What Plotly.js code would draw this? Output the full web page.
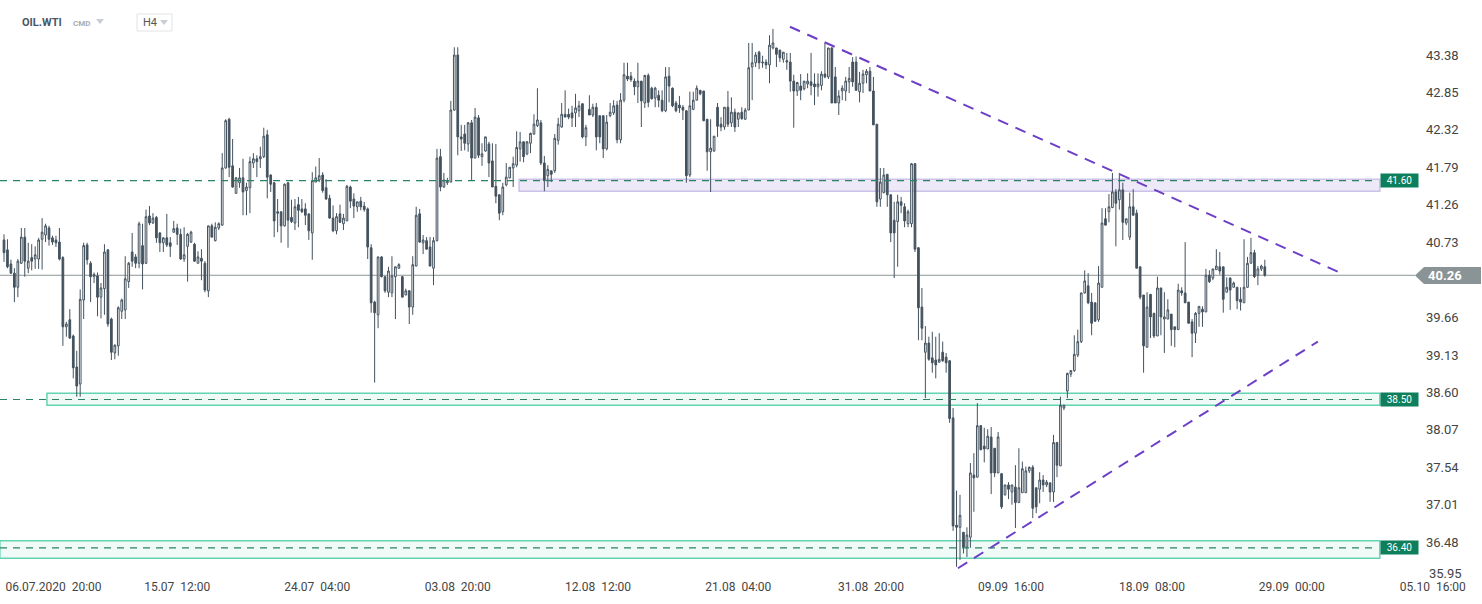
<!DOCTYPE html>
<html><head><meta charset="utf-8">
<script src="https://cdn.plot.ly/plotly-3.0.1.min.js"></script>
<style>html,body{margin:0;padding:0;background:#fff;overflow:hidden}#chart{width:1482px;height:604px}</style>
</head><body><div id="chart"></div>
<script>
// ---- data (OIL.WTI, H4) ----
const openP = [
40.76,40.62,40.42,40.29,40.09,40.43,40.80,40.36,40.51,40.49,
40.49,40.77,40.83,40.93,40.79,40.76,40.73,40.51,39.53,39.63,
39.40,38.96,38.72,39.91,40.69,40.43,40.24,40.25,39.95,40.07,
40.62,39.64,39.16,39.26,39.75,39.77,40.17,40.59,40.52,40.43,
40.68,40.43,41.10,41.00,41.08,40.86,40.72,40.79,40.72,40.87,
40.93,40.84,40.49,40.67,40.73,40.70,40.43,40.50,40.43,40.04,
40.96,40.75,40.93,
40.97,41.78,42.47,41.81,41.42,41.57,41.64,
41.46,41.50,41.85,41.91,41.91,41.94,42.25,41.68,41.57,41.16,
41.16,40.96,41.57,41.08,41.00,41.26,41.20,41.20,41.13,40.86,
41.58,41.61,41.68,41.50,41.35,41.07,40.89,41.13,40.99,41.03,
41.51,41.34,41.23,41.31,41.24,41.20,40.65,39.88,39.70,40.52,
40.24,40.02,40.01,40.24,40.36,40.24,39.98,40.04,39.81,40.39,
41.13,40.72,40.75,40.66,40.36,40.75,41.94,41.51,41.57,41.58,
42.60,43.38,42.22,42.26,42.12,42.42,41.92,42.49,41.94,42.02,
42.12,41.88,41.52,41.40,41.16,41.54,41.64,41.78,41.82,42.05,
42.15,41.98,42.13,42.26,42.38,42.42,41.85,41.67,41.74,41.74,
42.17,42.36,42.54,42.54,42.56,42.56,42.59,42.69,42.22,42.61,
42.53,42.64,42.52,42.52,42.05,42.52,42.56,42.67,42.18,42.74,
43.08,43.08,43.01,42.93,43.01,42.70,43.09,42.91,42.77,42.81,
42.74,42.59,43.08,42.91,42.70,42.67,42.64,42.59,41.68,42.61,
42.74,42.88,42.87,42.47,42.01,42.02,42.64,42.40,42.36,42.64,
42.42,42.57,42.47,42.57,42.47,42.60,43.21,43.27,43.42,43.28,
43.28,43.24,43.48,43.48,43.45,43.32,43.30,43.28,43.01,42.87,
42.94,42.90,42.97,43.00,42.97,42.93,42.95,43.11,43.07,43.48,
43.07,42.70,42.87,42.87,43.00,43.28,43.28,42.86,42.98,43.10,
43.15,42.87,42.40,41.34,41.43,41.69,41.40,41.04,41.02,41.30,
41.23,40.99,40.99,41.84,40.65,39.81,39.17,39.30,39.09,39.06,
39.03,39.17,39.10,39.05,38.24,36.72,36.69,36.62,36.41,36.55,
37.43,37.40,38.13,37.84,37.80,37.97,37.81,37.46,37.45,37.15,
37.29,37.19,37.26,37.04,37.18,37.18,37.49,37.54,37.25,37.23,
37.36,37.29,37.32,37.19,37.89,37.56,38.38,38.62,38.86,38.91,
39.13,39.32,40.01,40.11,39.88,39.87,39.63,40.09,41.06,41.16,
41.22,41.44,41.33,41.47,41.00,40.80,41.23,41.14,40.38,39.98,
39.24,39.99,39.72,39.40,40.08,39.64,39.64,39.71,39.53,39.49,
40.04,40.01,39.88,39.60,39.44,39.72,39.78,39.74,40.26,40.22,
40.34,40.38,40.38,40.02,40.22,40.09,40.09,39.92,39.87,40.09,
40.43,40.58,40.26,40.35,40.38];
const highP = [
40.84,40.77,40.48,40.36,40.49,40.93,40.93,40.72,40.70,40.67,
40.79,41.07,40.99,40.96,40.82,40.82,40.93,40.53,39.60,39.78,
39.42,39.19,40.06,40.72,40.72,40.46,40.30,40.30,40.15,40.70,
40.63,39.66,39.28,39.82,39.93,40.53,40.45,40.86,40.56,41.02,
40.99,41.19,41.24,41.14,41.10,40.87,40.80,41.13,40.80,41.03,
40.99,40.92,40.94,40.86,40.89,40.72,40.60,40.63,40.46,40.96,
40.99,41.01,41.01,
41.99,42.47,42.49,42.19,41.65,41.78,41.91,
41.57,41.94,41.99,41.96,42.08,42.35,42.32,41.69,41.58,41.34,
41.16,41.56,41.58,41.33,41.34,41.37,41.34,41.28,41.13,41.72,
41.80,41.92,41.72,41.62,41.40,41.25,41.14,41.26,41.13,41.54,
41.53,41.42,41.30,41.37,41.30,41.22,40.70,39.90,40.52,40.53,
40.25,40.38,40.53,40.38,40.43,40.25,40.07,40.05,40.53,41.23,
41.20,40.83,40.80,40.80,40.80,42.05,42.05,41.71,41.64,42.73,
43.49,43.49,42.39,42.39,42.43,42.46,42.63,42.53,42.13,42.22,
42.15,42.13,42.12,41.40,41.57,41.85,41.79,41.94,42.30,42.29,
42.16,42.16,42.28,42.54,42.91,42.46,41.95,41.82,41.74,42.26,
42.49,42.70,42.88,42.62,42.66,42.83,42.73,42.69,42.39,42.81,
42.69,42.70,42.52,42.52,42.53,42.70,42.74,42.73,42.84,43.27,
43.27,43.14,43.05,43.27,43.01,43.10,43.12,42.93,42.93,42.88,
42.88,43.21,43.21,42.92,42.73,42.80,42.67,42.60,42.86,42.86,
42.95,42.88,42.87,42.47,42.47,42.23,42.70,42.50,42.64,42.87,
42.78,42.62,42.56,42.64,42.63,43.55,43.55,43.42,43.44,43.37,
43.32,43.66,43.75,43.48,43.45,43.42,43.41,43.41,43.10,43.00,
43.11,43.01,43.12,43.41,43.12,43.12,43.15,43.55,43.48,43.49,
43.21,42.88,42.95,43.07,43.21,43.35,43.36,43.14,43.17,43.18,
43.21,43.07,42.40,41.78,41.78,41.69,41.40,41.30,41.40,41.37,
41.28,41.19,41.85,41.85,40.66,40.08,39.54,39.39,39.46,39.39,
39.44,39.32,39.16,39.05,38.38,37.21,37.15,36.62,36.69,37.60,
37.74,38.45,38.14,38.10,38.08,38.11,37.81,38.04,37.45,37.29,
37.33,37.29,37.57,37.81,37.62,37.55,37.55,37.57,37.25,37.47,
37.43,37.36,37.32,38.00,37.90,38.54,38.42,38.88,38.91,39.41,
39.49,40.01,40.33,40.29,40.01,39.87,40.39,41.21,41.21,41.41,
41.71,41.48,41.71,41.57,41.06,41.43,41.48,41.19,40.38,39.98,
40.02,39.99,39.73,40.24,40.08,40.02,39.92,39.71,39.53,40.14,
40.09,40.73,39.88,39.64,39.74,39.82,39.82,40.35,40.33,40.35,
40.63,40.59,40.38,40.23,40.23,40.17,40.09,40.09,40.77,40.52,
40.79,40.62,40.39,40.41,40.48];
const lowP = [
40.45,40.36,40.28,39.88,39.95,40.42,40.24,40.29,40.33,40.35,
40.35,40.34,40.73,40.68,40.69,40.66,40.47,39.26,39.39,39.36,
38.80,38.54,38.54,39.64,40.41,39.88,40.15,39.68,39.65,39.70,
39.53,39.06,39.07,39.12,39.64,39.64,40.08,40.38,40.36,40.36,
40.06,40.42,40.97,40.99,40.72,40.59,40.59,40.66,40.52,40.86,
40.69,40.48,40.45,40.17,40.72,40.45,40.43,40.19,40.02,39.95,
40.80,40.74,40.90,
40.96,41.77,41.65,41.50,41.42,41.50,41.11,
41.11,41.14,41.78,41.65,41.78,41.92,41.35,41.44,40.80,40.87,
40.72,40.95,40.65,41.00,40.90,40.94,41.14,40.97,40.76,40.48,
41.58,41.58,41.43,41.33,41.06,40.87,40.84,41.00,40.90,41.03,
41.21,41.07,41.16,41.18,41.16,40.49,39.73,38.74,39.51,40.23,
40.01,39.95,39.95,39.64,40.35,39.95,39.98,39.57,39.70,40.39,
40.72,40.56,40.62,40.39,40.12,40.74,41.45,41.50,41.54,41.58,
42.59,41.96,42.02,42.03,42.01,41.61,41.92,41.92,41.81,42.01,
41.65,41.51,41.28,41.04,41.11,41.52,41.63,41.51,41.79,41.87,
41.86,41.96,41.99,42.25,42.36,41.82,41.45,41.51,41.58,41.71,
42.11,42.35,42.50,42.47,42.36,42.36,42.50,42.20,42.09,42.53,
42.50,42.03,42.13,41.92,42.03,42.50,42.53,42.13,42.13,42.71,
43.01,43.00,42.81,42.70,42.36,42.63,42.64,42.75,42.64,42.64,
42.57,42.57,42.71,42.64,42.57,42.56,42.46,41.57,41.65,42.60,
42.74,42.81,42.44,41.74,41.44,42.01,42.22,42.30,42.32,42.36,
42.36,42.29,42.36,42.46,42.46,42.60,42.74,43.21,43.18,43.20,
43.18,42.98,43.46,43.21,43.28,43.27,43.17,42.86,42.35,42.80,
42.74,42.88,42.91,42.81,42.67,42.79,42.88,43.05,43.04,42.70,
42.70,42.53,42.74,42.73,42.84,42.93,42.88,42.71,42.84,42.98,
42.87,42.39,41.23,41.23,41.42,41.23,40.73,40.22,40.38,41.14,
40.94,40.94,40.94,40.59,39.34,39.34,38.52,39.05,38.88,38.80,
39.02,39.03,38.88,38.17,36.64,36.13,36.23,36.32,36.27,36.40,
36.91,37.40,37.78,37.61,37.80,37.16,37.40,37.46,36.95,37.14,
37.09,37.01,36.68,37.04,37.18,37.18,37.46,36.82,36.89,37.03,
37.19,37.26,37.05,37.05,37.40,37.56,38.35,38.52,38.82,38.89,
39.10,39.30,40.00,39.85,39.41,39.60,39.60,40.09,40.97,41.01,
41.21,40.67,41.19,40.76,40.97,40.76,41.11,40.36,39.92,38.88,
39.24,39.37,39.37,39.40,39.41,39.16,39.64,39.26,39.24,39.49,
39.97,39.87,39.58,39.10,39.30,39.53,39.53,39.74,40.15,40.19,
40.34,40.27,39.73,40.02,39.77,40.09,39.78,39.76,39.87,40.08,
40.43,40.22,40.12,40.32,40.24];
const closeP = [
40.58,40.38,40.29,40.09,40.46,40.80,40.46,40.46,40.46,40.55,
40.76,40.87,40.96,40.77,40.73,40.72,40.49,39.53,39.57,39.37,
38.95,38.69,39.92,40.68,40.48,40.24,40.27,39.95,40.08,40.59,
39.57,39.17,39.27,39.80,39.91,40.21,40.43,40.46,40.43,40.99,
40.42,41.09,41.00,41.07,40.79,40.72,40.79,40.69,40.67,40.92,
40.84,40.49,40.55,40.84,40.87,40.46,40.52,40.46,40.05,40.96,
40.80,40.94,40.99,
41.78,42.45,41.79,41.51,41.64,41.64,41.44,
41.51,41.87,41.91,41.87,41.94,42.23,41.65,41.55,41.03,41.14,
40.96,41.55,41.04,41.02,41.23,41.18,41.16,41.11,40.89,41.60,
41.64,41.67,41.46,41.34,41.07,40.89,41.09,41.01,41.07,41.52,
41.31,41.24,41.30,41.23,41.19,40.66,39.87,39.73,40.52,40.24,
40.04,40.32,40.25,40.38,40.41,39.95,40.04,39.81,40.41,41.11,
40.73,40.76,40.63,40.39,40.75,41.92,41.51,41.61,41.59,42.60,
43.38,42.22,42.19,42.13,42.42,41.92,42.50,41.96,41.98,42.22,
41.85,41.51,41.38,41.14,41.51,41.65,41.79,41.84,42.07,42.15,
41.94,42.15,42.27,42.40,42.46,41.85,41.60,41.76,41.69,42.20,
42.40,42.54,42.50,42.50,42.49,42.63,42.66,42.22,42.35,42.53,
42.64,42.22,42.22,42.05,42.43,42.57,42.66,42.18,42.74,43.10,
43.04,43.03,42.93,43.01,42.73,43.09,42.71,42.76,42.91,42.74,
42.59,43.07,42.94,42.66,42.59,42.63,42.60,41.67,42.66,42.74,
42.91,42.83,42.45,42.01,42.06,42.23,42.37,42.36,42.64,42.40,
42.57,42.36,42.56,42.48,42.60,43.20,43.27,43.38,43.27,43.27,
43.24,43.52,43.55,43.39,43.34,43.42,43.28,43.01,42.87,42.99,
42.88,43.01,43.01,42.95,42.93,42.97,43.11,43.07,43.48,42.70,
42.70,42.80,42.91,43.01,43.05,43.00,42.88,42.98,43.11,43.15,
42.87,42.39,41.30,41.58,41.68,41.40,40.86,40.86,41.30,41.25,
41.03,41.16,41.84,40.63,39.80,39.51,39.30,39.07,39.02,38.99,
39.07,39.05,39.02,38.23,36.71,36.69,36.86,36.41,36.58,37.46,
37.39,38.13,37.79,37.80,37.98,37.46,37.46,37.97,36.98,37.29,
37.23,37.29,37.04,37.25,37.52,37.49,37.54,36.96,36.98,37.36,
37.29,37.33,37.19,37.89,37.57,38.42,38.42,38.87,38.91,39.14,
39.32,40.01,40.18,39.87,39.58,39.61,40.15,41.00,40.97,41.23,
41.44,41.28,41.47,41.01,41.06,41.23,41.11,40.36,39.95,39.26,
39.81,39.67,39.40,40.08,39.67,39.67,39.77,39.49,39.49,40.05,
40.01,39.87,39.58,39.44,39.72,39.82,39.74,40.26,40.17,40.35,
40.39,40.32,39.92,40.09,40.05,40.15,39.90,39.88,40.09,40.43,
40.58,40.24,40.35,40.39,40.26];

const tickIdx  = [14.3, 50, 90.4, 131, 171.5, 212, 250.3, 290.7, 331.4, 371.8, 412.5];
const tickText = ['06.07.2020\u00a0\u00a020:00','15.07\u00a0\u00a012:00','24.07\u00a0\u00a004:00','03.08\u00a0\u00a020:00',
                  '12.08\u00a0\u00a012:00','21.08\u00a0\u00a004:00','31.08\u00a0\u00a020:00','09.09\u00a0\u00a016:00',
                  '18.09\u00a0\u00a008:00','29.09\u00a0\u00a000:00','05.10\u00a0\u00a016:00'];
const yTicks = [36.48, 37.01, 37.54, 38.07, 38.60, 39.13, 39.66, 40.73, 41.26, 41.79, 42.32, 42.85, 43.38];
const bottomTick = 35.95;
const lastPrice = 40.26;
const levels    = [41.60, 38.50, 36.40];
const zoneLow   = [41.45, 38.42, 36.25];
const zoneHigh  = [41.62, 38.59, 36.50];
const zoneStart = [148.7, 12.4, -1.2];
const zoneEnd   = 397.2;
const trendDown = {x:[226.9, 385.1], y:[43.78, 40.31]};
const trendUp   = {x:[275.4, 379.3], y:[36.11, 39.32]};

// ---- geometry helpers (pixel -> paper) ----
const W = 1482, PH = 578;
const px = v => v / W;
const py = v => 1 - v / PH;
const FONT = 'Roboto, Arial, sans-serif';

const idx = openP.map((_, i) => i);
const candleCol = '#44525e';

const trace = {
  type: 'candlestick', x: idx, open: openP, high: highP, low: lowP, close: closeP,
  increasing: {line: {color: candleCol, width: 1}, fillcolor: '#ffffff'},
  decreasing: {line: {color: candleCol, width: 1}, fillcolor: candleCol},
  whiskerwidth: 0, hoverinfo: 'skip', showlegend: false
};

const shapes = [];
const annotations = [];
const zoneStyles = [
  {fill: 'rgba(214,206,240,0.45)', line: '#cbc1e9'},
  {fill: 'rgba(222,246,238,0.45)', line: '#63d4b2'},
  {fill: 'rgba(222,246,238,0.45)', line: '#63d4b2'}
];
levels.forEach((lv, k) => {
  shapes.push({type: 'rect', layer: 'below', xref: 'x', yref: 'y',
    x0: zoneStart[k], x1: zoneEnd, y0: zoneLow[k], y1: zoneHigh[k],
    fillcolor: zoneStyles[k].fill, line: {color: zoneStyles[k].line, width: 1.5}});
  shapes.push({type: 'line', layer: 'above', xref: 'paper', yref: 'y',
    x0: 0, x1: px(1374), y0: lv, y1: lv,
    line: {color: '#2b8264', width: 1.2, dash: '7px,6px'}});
  annotations.push({xref: 'paper', yref: 'y', x: px(1399.5), y: lv, text: lv.toFixed(2),
    showarrow: false, bgcolor: '#0d7f5c', width: 37, height: 13, borderpad: 0,
    font: {family: FONT, size: 10, color: '#ffffff'}, xanchor: 'center', yanchor: 'middle'});
});

// last price line + tag
shapes.push({type: 'line', layer: 'below', xref: 'paper', yref: 'y', x0: 0, x1: px(1415),
  y0: lastPrice, y1: lastPrice, line: {color: '#8d9699', width: 1}});
shapes.push({type: 'path', xref: 'paper', yref: 'paper', layer: 'above',
  path: `M ${px(1415)},${py(275.5)} L ${px(1424)},${py(267)} L ${px(1481)},${py(267)} L ${px(1481)},${py(284)} L ${px(1424)},${py(284)} Z`,
  fillcolor: '#8a9396', line: {width: 0}});
annotations.push({xref: 'paper', yref: 'y', x: px(1445), y: lastPrice, text: '<b>' + lastPrice.toFixed(2) + '</b>',
  showarrow: false, font: {family: FONT, size: 13, color: '#ffffff'}, xanchor: 'center', yanchor: 'middle'});

// trend lines
[trendDown, trendUp].forEach(t => shapes.push({type: 'line', layer: 'above', xref: 'x', yref: 'y',
  x0: t.x[0], x1: t.x[1], y0: t.y[0], y1: t.y[1],
  line: {color: '#6c3fc6', width: 2, dash: '11px,8px'}}));

// bottom label of price scale (lifted to stay above the date axis)
annotations.push({xref: 'paper', yref: 'paper', x: px(1427), y: py(573), xanchor: 'left', yanchor: 'middle',
  text: bottomTick.toFixed(2), showarrow: false, font: {family: FONT, size: 13, color: '#444'}});

// header
annotations.push({xref: 'paper', yref: 'paper', x: px(20), y: py(22), xanchor: 'left', yanchor: 'middle',
  text: '<b>OIL.WTI</b>', showarrow: false, font: {family: FONT, size: 11, color: '#4b5661'}});
annotations.push({xref: 'paper', yref: 'paper', x: px(71), y: py(23), xanchor: 'left', yanchor: 'middle',
  text: '<b>CMD</b>', showarrow: false, font: {family: FONT, size: 8, color: '#a3adb7'}});
annotations.push({xref: 'paper', yref: 'paper', x: px(141), y: py(22.5), xanchor: 'left', yanchor: 'middle',
  text: 'H4', showarrow: false, font: {family: FONT, size: 11, color: '#555'}});
shapes.push({type: 'path', xref: 'paper', yref: 'paper', layer: 'above',
  path: `M ${px(96)},${py(19)} L ${px(104)},${py(19)} L ${px(100)},${py(24)} Z`,
  fillcolor: '#c8cdd3', line: {width: 0}});
shapes.push({type: 'rect', xref: 'paper', yref: 'paper', layer: 'above',
  x0: px(137), x1: px(172), y0: py(31), y1: py(14), fillcolor: 'rgba(0,0,0,0)', line: {color: '#dfe3e8', width: 1}});
shapes.push({type: 'path', xref: 'paper', yref: 'paper', layer: 'above',
  path: `M ${px(160)},${py(20)} L ${px(168)},${py(20)} L ${px(164)},${py(25)} Z`,
  fillcolor: '#c8cdd3', line: {width: 0}});

const layout = {
  width: W, height: 604,
  margin: {l: 0, r: 0, t: 0, b: 26, pad: 0},
  paper_bgcolor: '#ffffff', plot_bgcolor: '#ffffff',
  showlegend: false, dragmode: false,
  xaxis: {range: [-1.155, 426.7], rangeslider: {visible: false}, showgrid: false, zeroline: false,
    showline: false, ticks: '', tickmode: 'array', tickvals: tickIdx, ticktext: tickText,
    tickfont: {family: FONT, size: 12, color: '#444'}, automargin: false, fixedrange: true},
  yaxis: {range: [35.972, 44.159], anchor: 'free', position: px(1425), side: 'right',
    showgrid: false, zeroline: false, showline: false, ticks: '', tickmode: 'array',
    tickvals: yTicks, ticktext: yTicks.map(v => v.toFixed(2)),
    tickfont: {family: FONT, size: 13, color: '#444'}, automargin: false, fixedrange: true},
  shapes: shapes, annotations: annotations
};

Plotly.newPlot('chart', [trace], layout, {staticPlot: true, displayModeBar: false});
</script>
</body></html>
